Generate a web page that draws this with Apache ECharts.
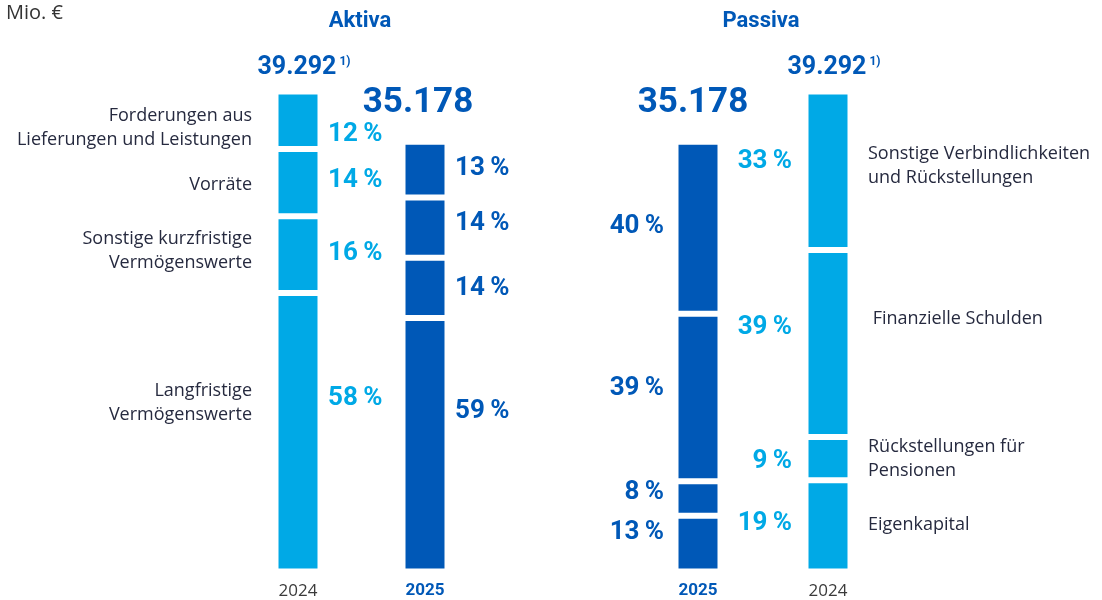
<!DOCTYPE html>
<html>
<head>
<meta charset="utf-8">
<script src="https://cdn.jsdelivr.net/npm/echarts@6/dist/echarts.min.js"></script>
<style>
  html, body { margin: 0; padding: 0; background: #fff; }
  #main { width: 1102px; height: 600px; }
</style>
</head>
<body>
<div id="main"></div>
<script>
// Bilanzstruktur, Mio. €
var total2024 = 39292
var total2025 = 35178
var aktivaYears = ['2024', '2025']
var passivaYears = ['2025', '2024']
// Reihenfolge jeweils von unten nach oben
var aktivaNames = ['Langfristige\nVermögenswerte', 'Sonstige kurzfristige\nVermögenswerte', 'Vorräte', 'Forderungen aus\nLieferungen und Leistungen']
var aktiva2024 = [58, 16, 14, 12]
var aktiva2025 = [59, 14, 14, 13]
var passivaNames = ['Eigenkapital', 'Rückstellungen für\nPensionen', ' Finanzielle Schulden', 'Sonstige Verbindlichkeiten\nund Rückstellungen']
var passiva2025 = [13, 8, 39, 40]
var passiva2024 = [19, 9, 39, 33]

// vertikale Verschiebung der Beschriftungen (px)
var shiftA24 = [-34, -1, -2, 14]
var shiftA25 = [-33, 1, -4, -1]
var shiftP25 = [-11, -6, -9, -1]
var shiftP24 = [-2, 3, -16, -9]
var shiftNamesA = [-29, -4, 2, 8]
var shiftNamesP = [-1, 0, -25, -5]

var light = '#00A9E6'
var dark = '#0058B7'
var textColor = '#262A3F'

function fmt (v) {
  return String(v).replace(/\B(?=(\d{3})+(?!\d))/g, '.')
}

function seg (total, pct, color, pos, dist, dy) {
  return {
    value: total * pct / 100,
    itemStyle: { color: color },
    label: {
      show: true,
      position: pos,
      distance: dist,
      offset: [0, dy],
      color: color,
      formatter: pct + '\u2009%'
    }
  }
}

function mids (total, pcts) {
  var acc = 0
  return pcts.map(function (p) {
    var v = total * p / 100
    var m = acc + v / 2
    acc += v
    return m
  })
}

var pctFont = { fontFamily: 'Roboto', fontWeight: 'bold', fontSize: 26 }
var series = []

aktivaNames.forEach(function (name, i) {
  series.push({
    type: 'bar',
    name: name,
    stack: 'aktiva',
    xAxisIndex: 0,
    yAxisIndex: 0,
    barWidth: 45,
    itemStyle: { borderColor: '#fff', borderWidth: 3 },
    label: pctFont,
    data: [
      seg(total2024, aktiva2024[i], light, 'right', 7.5, shiftA24[i]),
      seg(total2025, aktiva2025[i], dark, 'right', 7.5, shiftA25[i])
    ]
  })
})

passivaNames.forEach(function (name, i) {
  series.push({
    type: 'bar',
    name: name,
    stack: 'passiva',
    xAxisIndex: 1,
    yAxisIndex: 1,
    barWidth: 45,
    itemStyle: { borderColor: '#fff', borderWidth: 3 },
    label: pctFont,
    data: [
      seg(total2025, passiva2025[i], dark, 'left', 11.5, shiftP25[i]),
      seg(total2024, passiva2024[i], light, 'left', 13.5, shiftP24[i])
    ]
  })
})

function totalLabel (total, note, dx) {
  return {
    show: true,
    position: 'top',
    distance: note ? 11 : 21,
    offset: [dx, 0],
    formatter: note ? '{v|' + fmt(total) + '}{s|1)}' : '{b|' + fmt(total) + '}',
    rich: {
      v: { fontFamily: 'Roboto', fontWeight: 'bold', fontSize: 25, color: dark },
      b: { fontFamily: 'Roboto', fontWeight: 'bold', fontSize: 35, color: dark },
      s: { fontFamily: 'Roboto', fontWeight: 'bold', fontSize: 12, color: dark, verticalAlign: 'top', padding: [0, 0, 0, 3] }
    }
  }
}

var hidden = { opacity: 1, color: 'transparent' }

// Summen
series.push({
  type: 'scatter',
  xAxisIndex: 0,
  yAxisIndex: 0,
  symbolSize: 0,
  silent: true,
  itemStyle: hidden,
  data: [
    { value: ['2024', total2024], label: totalLabel(total2024, true, 6) },
    { value: ['2025', total2025], label: totalLabel(total2025, false, -7) }
  ]
})
series.push({
  type: 'scatter',
  xAxisIndex: 1,
  yAxisIndex: 1,
  symbolSize: 0,
  silent: true,
  itemStyle: hidden,
  data: [
    { value: ['2025', total2025], label: totalLabel(total2025, false, -5) },
    { value: ['2024', total2024], label: totalLabel(total2024, true, 6) }
  ]
})

// Positionsnamen
var nameFont = { fontFamily: 'Open Sans', fontSize: 18, lineHeight: 24, color: textColor }
var midA = mids(total2024, aktiva2024)
series.push({
  type: 'scatter',
  xAxisIndex: 0,
  yAxisIndex: 0,
  symbolSize: 0,
  silent: true,
  itemStyle: hidden,
  label: Object.assign({ show: true, position: 'left', distance: 46, align: 'right', formatter: '{b}' }, nameFont),
  data: aktivaNames.map(function (n, i) {
    return { name: n, value: ['2024', midA[i]], label: { offset: [0, shiftNamesA[i]] } }
  })
})
var midP = mids(total2024, passiva2024)
series.push({
  type: 'scatter',
  xAxisIndex: 1,
  yAxisIndex: 1,
  symbolSize: 0,
  silent: true,
  itemStyle: hidden,
  label: Object.assign({ show: true, position: 'right', distance: 40, align: 'left', formatter: '{b}' }, nameFont),
  data: passivaNames.map(function (n, i) {
    return { name: n, value: ['2024', midP[i]], label: { offset: [0, shiftNamesP[i]] } }
  })
})

function yearData (years) {
  return years.map(function (y) {
    if (y === '2025') {
      return { value: y, textStyle: { fontFamily: 'Roboto', fontWeight: 'bold', fontSize: 17, color: dark } }
    }
    return { value: y, textStyle: { fontFamily: 'Open Sans', fontSize: 17, color: '#3a3a3a' } }
  })
}

function xAxis (grid, years) {
  return {
    type: 'category',
    gridIndex: grid,
    data: yearData(years),
    axisLine: { show: false },
    axisTick: { show: false },
    axisLabel: { margin: 11 }
  }
}

function yAxis (grid) {
  return { type: 'value', gridIndex: grid, min: 0, max: total2024, show: false }
}

var myChart = echarts.init(document.getElementById('main'))
var option = {
  animation: false,
  grid: [
    { left: 234.5, width: 254, top: 91.5, height: 480 },
    { left: 633, width: 260, top: 91.5, height: 480 }
  ],
  xAxis: [xAxis(0, aktivaYears), xAxis(1, passivaYears)],
  yAxis: [yAxis(0), yAxis(1)],
  graphic: [
    { type: 'text', x: 6, y: 13, style: { text: 'Mio. €', font: '20px "Open Sans"', fill: '#333', verticalAlign: 'middle', textVerticalAlign: 'middle' } },
    { type: 'text', x: 360, y: 21, style: { text: 'Aktiva', font: 'bold 22px Roboto', fill: dark, align: 'center', textAlign: 'center', verticalAlign: 'middle', textVerticalAlign: 'middle' } },
    { type: 'text', x: 761, y: 21, style: { text: 'Passiva', font: 'bold 22px Roboto', fill: dark, align: 'center', textAlign: 'center', verticalAlign: 'middle', textVerticalAlign: 'middle' } }
  ],
  series: series
}
myChart.setOption(option)
</script>
</body>
</html>
